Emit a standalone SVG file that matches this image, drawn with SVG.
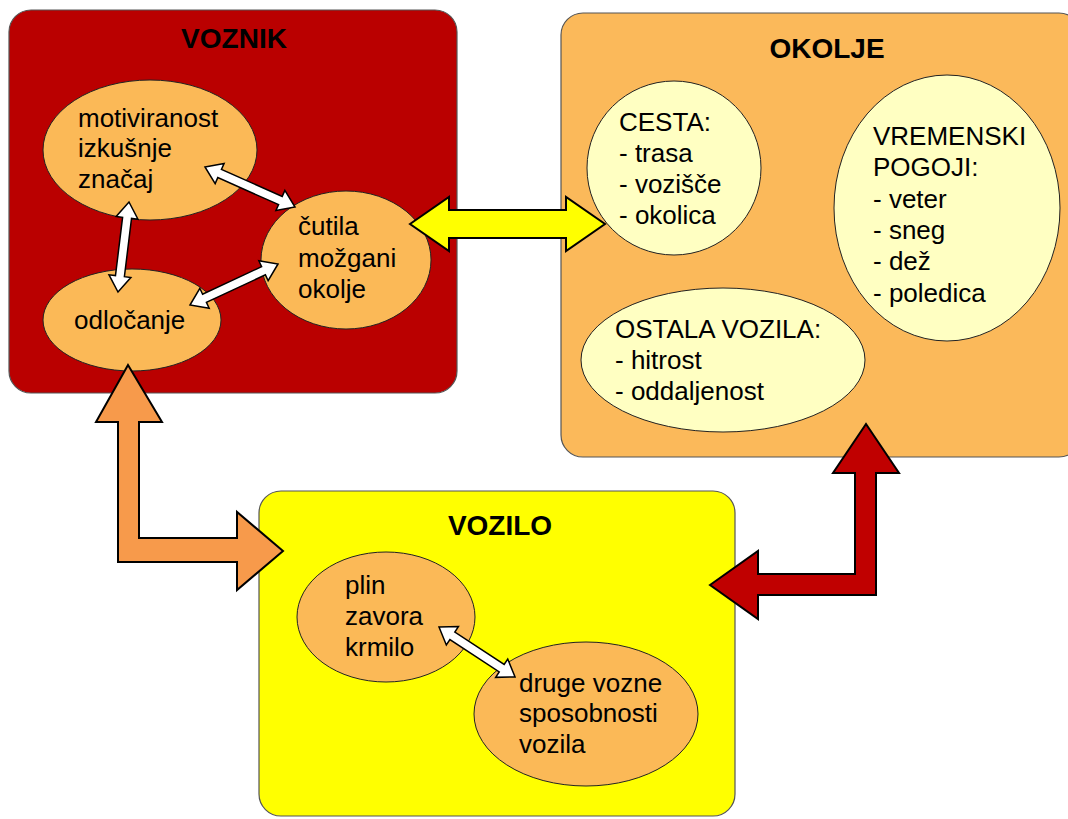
<svg xmlns="http://www.w3.org/2000/svg" width="1068" height="819" viewBox="0 0 1068 819">
<style>
.box{stroke:#555;stroke-width:1.2}
.ell{stroke:#222;stroke-width:1}
.or{fill:#FBB957}
.ly{fill:#FFFFC2}
.title{font-family:"Liberation Sans",Arial,sans-serif;font-weight:bold;font-size:28px;fill:#000;text-anchor:middle}
.t{font-family:"Liberation Sans",Arial,sans-serif;font-size:26px;fill:#000}
.wa{fill:#fff;stroke:#000;stroke-width:1.5;stroke-linejoin:miter}
.ba{stroke:#000;stroke-width:2;stroke-linejoin:miter}
</style>
<rect width="1068" height="819" fill="#fff"/>
<g id="voznik">
<rect class="box" x="9" y="10" width="448" height="383" rx="22" fill="#BA0000"/>
<text class="title" x="234" y="48">VOZNIK</text>
</g>
<g id="okolje">
<rect class="box" x="561" y="13" width="520" height="444" rx="22" fill="#FBB95A"/>
<text class="title" x="827" y="58">OKOLJE</text>
</g>
<g id="vozilo">
<rect class="box" x="259" y="491" width="476" height="325" rx="22" fill="#FFFF00"/>
<text class="title" x="500" y="535">VOZILO</text>
</g>
<g id="motiviranost">
<ellipse class="ell or" cx="150" cy="150" rx="107" ry="70"/>
<text class="t" x="78" y="127">motiviranost</text>
<text class="t" x="78" y="157">izkušnje</text>
<text class="t" x="78" y="188">značaj</text>
</g>
<g id="odlocanje">
<ellipse class="ell or" cx="132" cy="320" rx="89" ry="51"/>
<text class="t" x="74" y="329">odločanje</text>
</g>
<g id="cutila">
<ellipse class="ell or" cx="346" cy="260" rx="85" ry="69"/>
<text class="t" x="298" y="235">čutila</text>
<text class="t" x="298" y="267">možgani</text>
<text class="t" x="298" y="298">okolje</text>
</g>
<g id="cesta">
<ellipse class="ell ly" cx="674" cy="168" rx="87" ry="87"/>
<text class="t" x="619" y="131">CESTA:</text>
<text class="t" x="619" y="162">- trasa</text>
<text class="t" x="619" y="193">- vozišče</text>
<text class="t" x="619" y="224">- okolica</text>
</g>
<g id="vremenski">
<ellipse class="ell ly" cx="947" cy="208" rx="113" ry="133"/>
<text class="t" x="873" y="145">VREMENSKI</text>
<text class="t" x="873" y="176">POGOJI:</text>
<text class="t" x="873" y="208">- veter</text>
<text class="t" x="873" y="239">- sneg</text>
<text class="t" x="873" y="270">- dež</text>
<text class="t" x="873" y="302">- poledica</text>
</g>
<g id="ostala">
<ellipse class="ell ly" cx="723" cy="360" rx="142" ry="72"/>
<text class="t" x="615" y="338">OSTALA VOZILA:</text>
<text class="t" x="615" y="369">- hitrost</text>
<text class="t" x="615" y="400">- oddaljenost</text>
</g>
<g id="plin">
<ellipse class="ell or" cx="386" cy="617" rx="89" ry="65"/>
<text class="t" x="345" y="594">plin</text>
<text class="t" x="345" y="625">zavora</text>
<text class="t" x="345" y="656">krmilo</text>
</g>
<g id="druge">
<ellipse class="ell or" cx="586" cy="714" rx="112" ry="72"/>
<text class="t" x="519" y="692">druge vozne</text>
<text class="t" x="519" y="722">sposobnosti</text>
<text class="t" x="519" y="753">vozila</text>
</g>
<g id="connectors">
<polygon class="wa" transform="translate(205,167) rotate(23.96)" points="0,0 16,-11 16,-4.5 82.5,-4.5 82.5,-11 98.5,0 82.5,11 82.5,4.5 16,4.5 16,11"/>
<polygon class="wa" transform="translate(129,202) rotate(96.97)" points="0,0 16,-11 16,-4.5 74.7,-4.5 74.7,-11 90.7,0 74.7,11 74.7,4.5 16,4.5 16,11"/>
<polygon class="wa" transform="translate(278,264) rotate(155)" points="0,0 16,-11 16,-4.5 81.1,-4.5 81.1,-11 97.1,0 81.1,11 81.1,4.5 16,4.5 16,11"/>
<polygon class="wa" transform="translate(439,627) rotate(33.3)" points="0,0 16,-11 16,-4.5 75,-4.5 75,-11 91,0 75,11 75,4.5 16,4.5 16,11"/>
<polygon class="ba" fill="#FFFF00" points="410,224 449,197 449,210 566,210 566,197 605,224 566,251 566,238 449,238 449,251"/>
<polygon class="ba" fill="#F79A4B" points="128,365 162,422 139,422 139,538 237,538 237,512 283,551 237,590 237,562 118,562 118,422 96,422"/>
<polygon class="ba" fill="#C00000" points="710,585 758,551 758,574 855,574 855,473 833,473 866,424 899,473 876,473 876,595 758,595 758,619"/>
</g>
</svg>
